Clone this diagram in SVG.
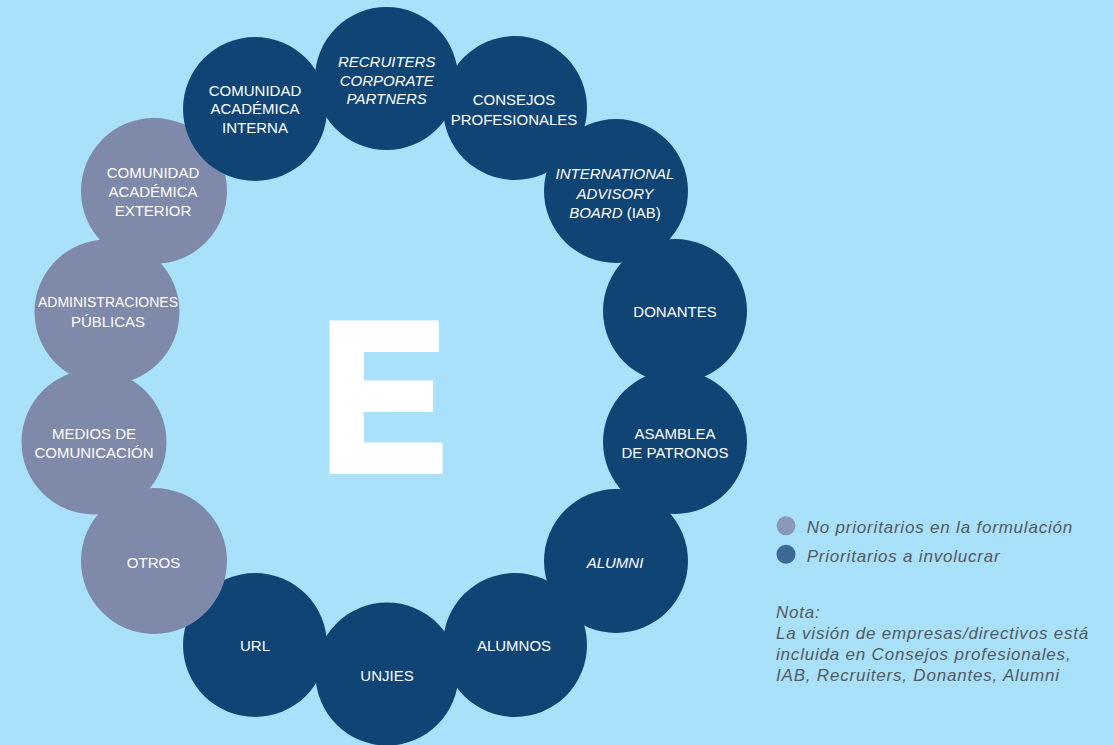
<svg xmlns="http://www.w3.org/2000/svg" width="1114" height="745" viewBox="0 0 1114 745">
<style>
.bg{fill:#a9e0fa}
.dk{fill:#0f4474}
.gr{fill:#7f89a9}
.t{font-family:"Liberation Sans",Arial,sans-serif;font-size:15px;fill:#ffffff;text-anchor:middle}
.i{font-style:italic}
.lg{font-family:"Liberation Sans",Arial,sans-serif;font-size:17px;font-style:italic;fill:#555a5e;letter-spacing:0.8px}
.big{font-family:"Liberation Sans",Arial,sans-serif;font-weight:bold;font-size:212px;fill:#ffffff;stroke:#ffffff;stroke-width:8;stroke-linejoin:miter}
</style>
<rect class="bg" x="0" y="0" width="1114" height="745"/>
<g id="connectors"></g>
<g id="n-exterior"><circle class="gr" cx="154" cy="191" r="73"/><text class="t" x="153" y="178.3">COMUNIDAD</text><text class="t" x="153" y="197.3">ACADÉMICA</text><text class="t" x="153" y="216">EXTERIOR</text></g>
<g id="n-admin"><circle class="gr" cx="107" cy="312" r="72.5"/><text class="t" x="108" y="307.3" textLength="140" lengthAdjust="spacingAndGlyphs">ADMINISTRACIONES</text><text class="t" x="108" y="326.7">PÚBLICAS</text></g>
<g id="n-medios"><circle class="gr" cx="94" cy="442" r="72.5"/><text class="t" x="94" y="439">MEDIOS DE</text><text class="t" x="94" y="458.3">COMUNICACIÓN</text></g>
<g id="n-interna"><circle class="dk" cx="255" cy="109" r="72"/><text class="t" x="255" y="95.7">COMUNIDAD</text><text class="t" x="255" y="114.3">ACADÉMICA</text><text class="t" x="255" y="133.3">INTERNA</text></g>
<g id="n-recruiters"><circle class="dk" cx="386.5" cy="78.5" r="71.5"/><text class="t i" x="386.7" y="66.7">RECRUITERS</text><text class="t i" x="386.7" y="85.7">CORPORATE</text><text class="t i" x="386.7" y="104.3">PARTNERS</text></g>
<g id="n-consejos"><circle class="dk" cx="515" cy="108" r="72"/><text class="t" x="514" y="105">CONSEJOS</text><text class="t" x="514" y="125">PROFESIONALES</text></g>
<g id="n-iab"><circle class="dk" cx="616" cy="191" r="72"/><text class="t i" x="615" y="179">INTERNATIONAL</text><text class="t i" x="615" y="199">ADVISORY</text><text class="t" x="615" y="218"><tspan font-style="italic">BOARD</tspan> (IAB)</text></g>
<g id="n-donantes"><circle class="dk" cx="675" cy="311" r="72"/><text class="t" x="675" y="317.3">DONANTES</text></g>
<g id="n-asamblea"><circle class="dk" cx="675" cy="442" r="72"/><text class="t" x="675" y="439.3">ASAMBLEA</text><text class="t" x="675" y="458.3">DE PATRONOS</text></g>
<g id="n-alumni"><circle class="dk" cx="616" cy="561" r="72"/><text class="t i" x="615" y="568.3">ALUMNI</text></g>
<g id="n-alumnos"><circle class="dk" cx="515" cy="645" r="72"/><text class="t" x="514" y="650.7">ALUMNOS</text></g>
<g id="n-unjies"><circle class="dk" cx="387" cy="674" r="71.5"/><text class="t" x="387" y="681">UNJIES</text></g>
<g id="n-url"><circle class="dk" cx="255" cy="645" r="72"/><text class="t" x="255" y="651">URL</text></g>
<g id="n-otros"><circle class="gr" cx="154" cy="561" r="73"/><text class="t" x="153.5" y="568.3">OTROS</text></g>
<text class="big" x="0" y="470" transform="translate(320.4,0) scale(0.89,1)">E</text>
<g id="legend">
<circle cx="786" cy="525.7" r="9.5" fill="#8a97b7"/>
<circle cx="786" cy="554.3" r="9.5" fill="#3e6995"/>
<text class="lg" x="806.7" y="533.3">No prioritarios en la formulación</text>
<text class="lg" x="806.7" y="561.7">Prioritarios a involucrar</text>
<text class="lg" x="776" y="618.3">Nota:</text>
<text class="lg" x="776" y="639">La visión de empresas/directivos está</text>
<text class="lg" x="776" y="660">incluida en Consejos profesionales,</text>
<text class="lg" x="776" y="680.7">IAB, Recruiters, Donantes, Alumni</text>
</g>
</svg>
